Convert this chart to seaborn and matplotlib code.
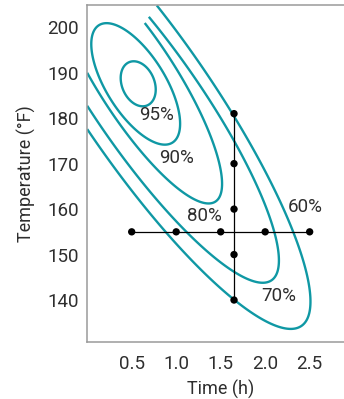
import numpy as np
import matplotlib
matplotlib.use("Agg")
import matplotlib.pyplot as plt
import seaborn as sns

# Traced contour points (time in h, temperature in F)
c95_time = [0.548, 0.680, 0.767, 0.680, 0.436, 0.374]
c95_temp = [192.4, 191.0, 186.6, 182.8, 185.1, 188.8]

c90_time = [0.121, 0.060, 0.211, 0.436, 0.739, 0.953, 1.071, 1.006, 0.593]
c90_temp = [200.6, 196.1, 185.8, 179.2, 175.5, 174.4, 178.1, 181.8, 196.8]

c80_time = [0.627, 1.043, 1.192, 1.343, 1.492, 1.526, 1.470, 1.391, 1.155, 0.930, 0.706, 0.369, 0.009]
c80_temp = [200.5, 191.3, 184.0, 176.7, 169.3, 166.0, 162.7, 161.3, 162.7, 165.1, 170.8, 179.6, 188.8]

c70_time = [0.683, 1.043, 1.399, 1.436, 1.961, 2.017, 2.073, 2.144, 2.017, 1.638, 1.267, 1.065, 0.481, 0.009]
c70_temp = [202.7, 192.8, 184.0, 181.8, 163.5, 159.8, 155.4, 145.9, 143.7, 146.6, 152.5, 155.2, 169.9, 182.2]

c60_time = [0.784, 1.192, 1.624, 2.129, 2.279, 2.466, 2.503, 2.428, 2.260, 2.017, 1.642, 1.267, 0.880, 0.481, 0.009]
c60_temp = [204.9, 193.5, 181.8, 163.5, 155.4, 148.1, 142.2, 136.3, 134.1, 134.5, 140.7, 146.2, 155.2, 165.1, 177.0]

# one-factor-at-a-time runs
time_runs = [0.5, 1.0, 1.5, 2.0, 2.5]
time_fixed_temp = 155
temp_runs = [140, 150, 160, 170, 181]
temp_fixed_time = 1.65

# contour labels
labels = ["95%", "90%", "80%", "70%", "60%"]
label_time = [0.784, 1.006, 1.312, 2.158, 2.455]
label_temp = [180.7, 171.2, 158.5, 140.9, 160.4]

teal = "#0f98a4"
grey = "#9a9a9a"
txt = "#2e2e2e"

sns.set_style("white")
plt.rcParams["font.family"] = ["Roboto", "DejaVu Sans"]


def fit_conic(t, T):
    u = np.asarray(t) - 1.3
    w = (np.asarray(T) - 170) / 20
    A = np.column_stack([u * u, u * w, w * w, u, w, np.ones_like(u)])
    _, _, vt = np.linalg.svd(A)
    return vt[-1]


def conic_value(coef, tt, TT):
    u = tt - 1.3
    w = (TT - 170) / 20
    return (coef[0] * u * u + coef[1] * u * w + coef[2] * w * w
            + coef[3] * u + coef[4] * w + coef[5])


fig = plt.figure(figsize=(3.44, 3.99), dpi=100)
ax = fig.add_axes([0.2535, 0.1421, 0.776, 0.8454])

tt, TT = np.meshgrid(np.linspace(0, 3.0, 600), np.linspace(128, 208, 600))
# upper ends of the open contours stop short of the frame
cut = (tt > 0.3) & (TT > 200.5 + 28 * (tt - 0.627))

traces = [(c95_time, c95_temp, False), (c90_time, c90_temp, False),
          (c80_time, c80_temp, True), (c70_time, c70_temp, True),
          (c60_time, c60_temp, True)]
for t, T, clip in traces:
    z = conic_value(fit_conic(t, T), tt, TT)
    if clip:
        z = np.ma.masked_where(cut, z)
    ax.contour(tt, TT, z, levels=[0], colors=teal, linewidths=1.7)

# cross of experimental runs
ax.plot([time_runs[0], time_runs[-1]], [time_fixed_temp] * 2, color="black", lw=0.9, zorder=3)
ax.plot([temp_fixed_time] * 2, [temp_runs[0], temp_runs[-1]], color="black", lw=0.9, zorder=3)
sns.scatterplot(x=time_runs, y=[time_fixed_temp] * len(time_runs), color="black",
                s=28, edgecolor="none", ax=ax, zorder=4)
sns.scatterplot(x=[temp_fixed_time] * len(temp_runs), y=temp_runs, color="black",
                s=28, edgecolor="none", ax=ax, zorder=4)

for lab, x, y in zip(labels, label_time, label_temp):
    ax.text(x, y, lab, ha="center", va="center", fontsize=13.5, color=txt)

ax.set_xlim(0, 3.0)
ax.set_ylim(130.7, 204.9)
ax.set_xticks([0.5, 1.0, 1.5, 2.0, 2.5])
ax.set_yticks([140, 150, 160, 170, 180, 190, 200])
ax.tick_params(direction="in", length=7.5, width=1.1, color=grey, labelsize=13.5,
               labelcolor=txt, pad=6)
ax.tick_params(axis="x", pad=9)
for side in ["left", "bottom", "top", "right"]:
    ax.spines[side].set_color(grey)
    ax.spines[side].set_linewidth(1.1)
ax.set_xlabel("Time (h)", fontsize=13, color=txt, labelpad=5)
ax.set_ylabel("Temperature (°F)", fontsize=13, color=txt, labelpad=8)

fig.savefig("out.png", dpi=100)
